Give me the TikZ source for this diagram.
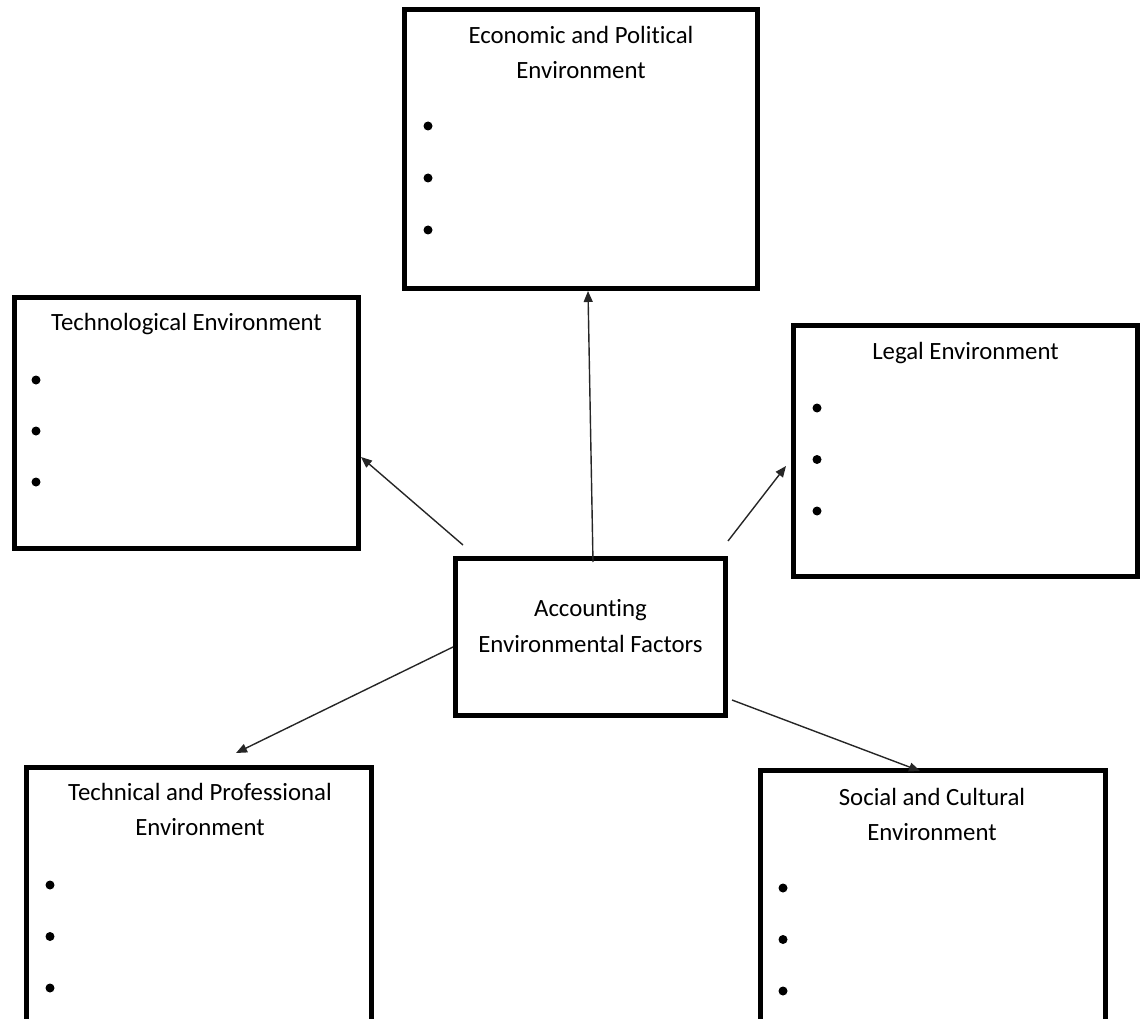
\documentclass[tikz,border=0pt]{standalone}
\usepackage{fontspec}
\setmainfont{Carlito}[Ligatures=NoCommon]
\usetikzlibrary{
  positioning,
  arrows.meta,
  calc
}

\begin{document}
\begin{tikzpicture}[
  x=1pt, y=-1pt,
  >={Triangle[length=11pt,width=9pt]},
  envbox/.style={
    rectangle,
    draw=black,
    line width=5pt,
    fill=white,
    inner sep=0pt,
    minimum width=344pt,
    minimum height=251pt
  },
  envtitle/.style={
    anchor=north,
    align=center,
    inner sep=0pt,
    font=\fontsize{24.8}{35.5}\selectfont
  },
  bullet/.style={
    circle,
    fill=black,
    inner sep=0pt,
    minimum size=9pt
  },
  flow/.style={
    ->,
    line width=1.4pt,
    black!85
  }
]

\useasboundingbox (0,0) rectangle (1146,1019);
\clip (0,0) rectangle (1146,1019);

% ------------------------------------------------------------------
% Boxes
% ------------------------------------------------------------------
\node[envbox, minimum width=353pt, minimum height=279pt] (econ) at (581,149) {};
\node[envbox] (techno) at (186.5,423) {};
\node[envbox] (legal) at (965.5,451) {};
\node[envbox, minimum width=270pt, minimum height=157pt] (hub) at (590.5,637) {};
\node[envbox, minimum width=345pt, minimum height=270pt] (techprof) at (199,902.5) {};
\node[envbox, minimum width=345pt, minimum height=270pt] (social) at (933,905.5) {};

% ------------------------------------------------------------------
% Titles
% ------------------------------------------------------------------
\node[envtitle] (econtitle) at ($(econ.north)+(0,19)$)
  {Economic and Political\\ Environment};
\node[envtitle] (technotitle) at ($(techno.north)+(0,18)$)
  {Technological Environment};
\node[envtitle] (legaltitle) at ($(legal.north)+(0,19)$)
  {Legal Environment};
\node[envtitle, anchor=center] (hubtitle) at ($(hub.center)+(0,-11)$)
  {Accounting\\ Environmental Factors};
\node[envtitle] (techproftitle) at ($(techprof.north)+(1,18)$)
  {Technical and Professional\\ Environment};
\node[envtitle] (socialtitle) at ($(social.north)+(-1,20)$)
  {Social and Cultural\\ Environment};

% ------------------------------------------------------------------
% Bullets
% ------------------------------------------------------------------
\foreach \i in {0,1,2} {
  \node[bullet] at ($(econ.north west)+(26,119+52*\i)$) {};
  \node[bullet] at ($(techno.north west)+(24,85+51*\i)$) {};
  \node[bullet] at ($(legal.north west)+(26,85+51.5*\i)$) {};
  \node[bullet] at ($(techprof.north west)+(26,120+51.5*\i)$) {};
  \node[bullet] at ($(social.north west)+(25,120+51.5*\i)$) {};
}

% ------------------------------------------------------------------
% Connectors
% ------------------------------------------------------------------
\draw[flow] ($(hub.north)+(2.5,6)$) -- ($(econ.south)+(7,0)$);
\draw[flow] ($(hub.north west)+(10,-11)$) -- ($(techno.east)+(0,34)$);
\draw[flow] ($(hub.north east)+(0,-15)$) -- ($(legal.west)+(-5,15)$);
\draw[flow] ($(hub.west)+(0,10)$) -- ($(techprof.north)+(37,-12)$);
\draw[flow] ($(hub.south east)+(4,-18)$) -- ($(social.north)+(-13,3)$);

\end{tikzpicture}
\end{document}
